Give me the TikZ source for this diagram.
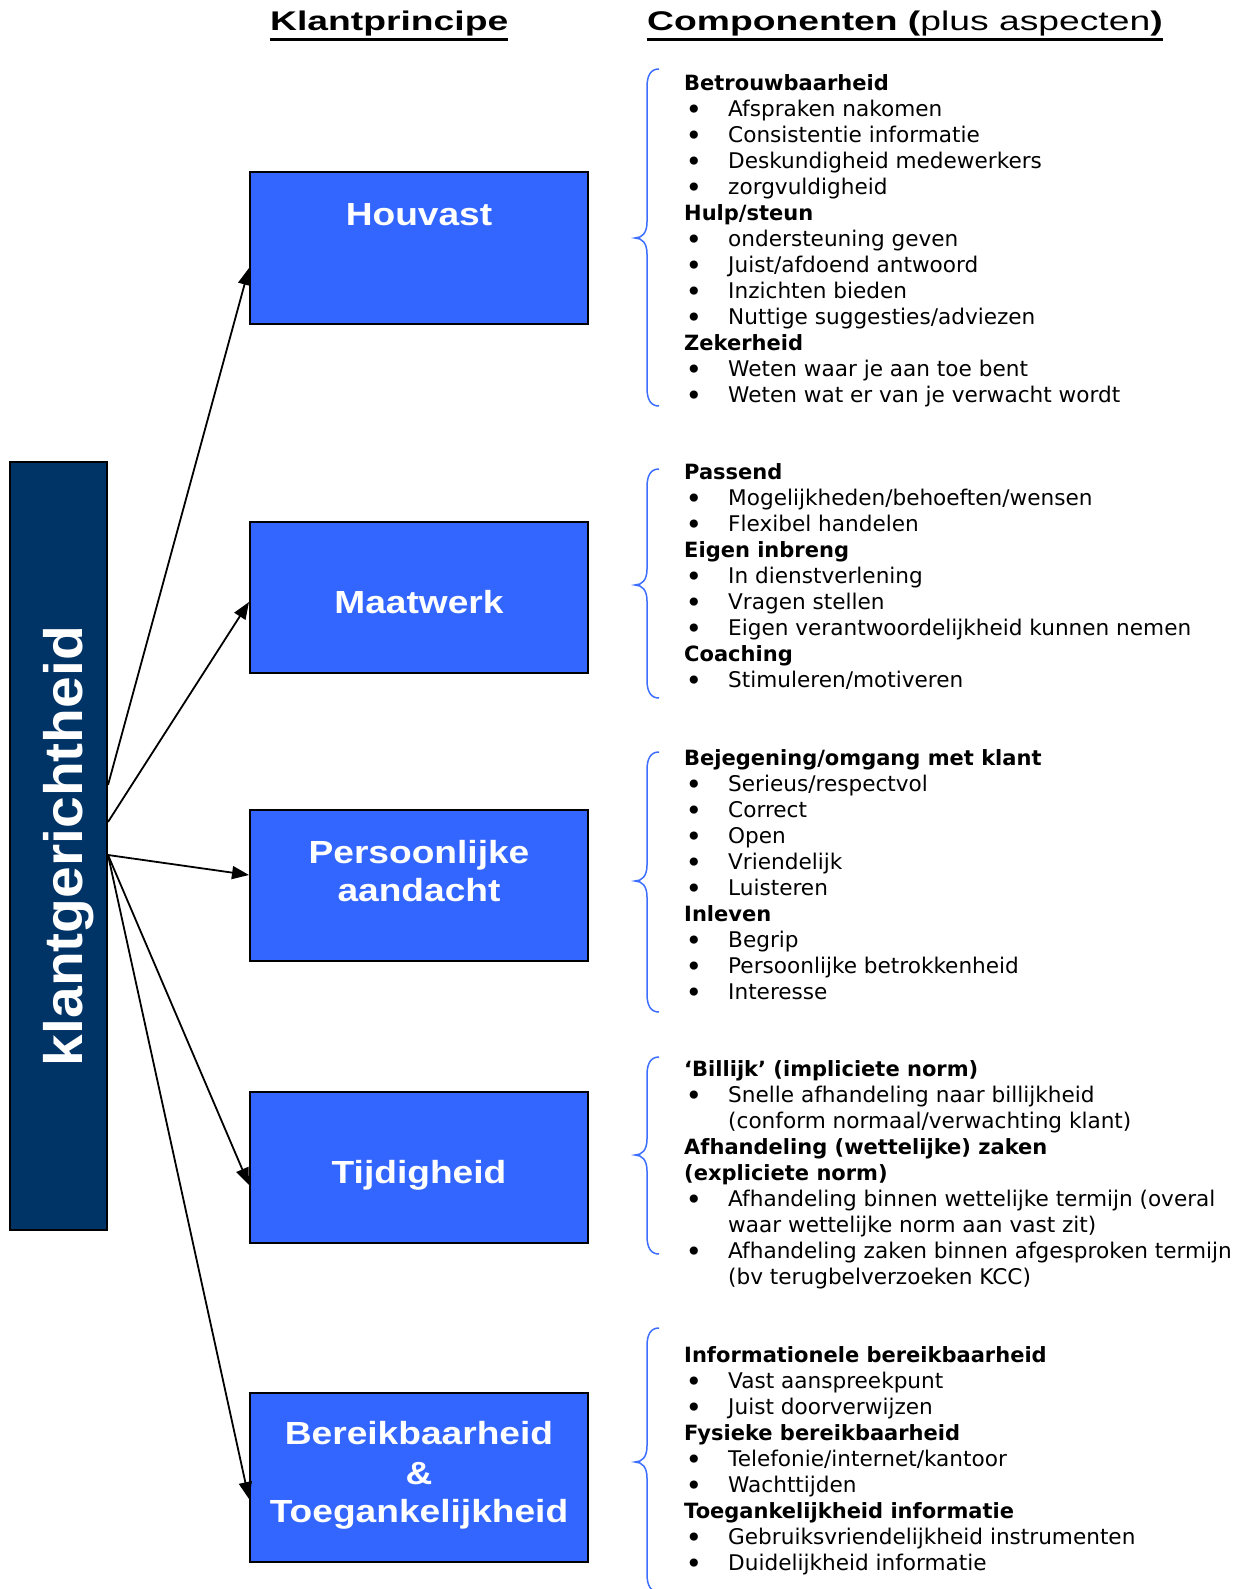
\documentclass[tikz,border=0pt]{standalone}
\usepackage{graphicx}
\usepackage{fontspec}
\setmainfont{DejaVu Sans}
\newfontfamily\arialf{Liberation Sans}
\usetikzlibrary{arrows.meta}
\definecolor{navy}{RGB}{0,51,102}
\definecolor{boxblue}{RGB}{51,102,255}
\definecolor{bracecol}{RGB}{60,110,255}
\newcommand{\itm}[1]{\makebox[44pt][l]{\hspace{1.5pt}\raisebox{-2.8pt}[0pt][0pt]{\scalebox{1.3}{\textbullet}}}#1}
\newcommand{\cnt}[1]{\hspace*{44pt}#1}
\newcommand{\hd}[1]{{\fontsize{21}{26}\selectfont\bfseries #1}}
\newcommand{\sx}[1]{\scalebox{1.16}[1]{#1}}
\newcommand{\bracedraw}[3]{\draw[brace] (659,#1) .. controls (651,#1) and (647,#1+6) .. (647,#1+18) -- (647,#2-16) .. controls (647,#2-5) and (642,#2) .. (635,#2) .. controls (642,#2) and (647,#2+5) .. (647,#2+16) -- (647,#3-18) .. controls (647,#3-6) and (651,#3) .. (659,#3);}
\begin{document}
\begin{tikzpicture}[x=1pt,y=-1pt,
  principle/.style={draw=black, line width=2pt, fill=boxblue, minimum width=338pt, inner sep=0pt},
  boxtext/.style={anchor=base, inner sep=0pt, text=white, font=\arialf\bfseries\fontsize{32}{38}\selectfont},
  comp/.style={anchor=north west, inner sep=0pt, align=left, font=\fontsize{21.6}{26}\selectfont},
  conn/.style={line width=1.8pt, -{Triangle[length=17pt,width=13pt]}},
  brace/.style={draw=bracecol, line width=1.5pt},
  titletext/.style={anchor=base west, inner sep=0pt, font=\arialf\fontsize{27}{32}\selectfont},
  uline/.style={line width=3pt}]
\useasboundingbox (0,0) rectangle (1235,1589);

% titles
\node[titletext] (T1) at (270,31) {\scalebox{1.38}[1]{\bfseries Klantprincipe}};
\node[titletext] (T2) at (647,31) {\scalebox{1.38}[1]{\textbf{Componenten (}plus aspecten\textbf{)}}};
\draw[uline] ([yshift=-8.5pt]T1.base west) -- ([yshift=-8.5pt]T1.base east);
\draw[uline] ([yshift=-8.5pt]T2.base west) -- ([yshift=-8.5pt]T2.base east);

% left box
\node[draw=black, line width=2pt, fill=navy, minimum width=97pt, minimum height=768pt, inner sep=0pt] (K) at (58.5,846) {};
\node[rotate=90, anchor=base, inner sep=0pt, text=white, font=\arialf\bfseries\fontsize{54}{60}\selectfont] (Kt) at (82,846) {\scalebox{1.055}[1]{klantgerichtheid}};

% principle boxes
\node[principle, minimum height=152pt] (H) at (419,248) {};
\node[principle, minimum height=151pt] (M) at (419,597.5) {};
\node[principle, minimum height=151pt] (P) at (419,885.5) {};
\node[principle, minimum height=151pt] (T) at (419,1167.5) {};
\node[principle, minimum height=169pt] (B) at (419,1477.5) {};

\node[boxtext] (Ht) at (419,225.5) {\sx{Houvast}};
\node[boxtext] (Mt) at (419,613.5) {\sx{Maatwerk}};
\node[boxtext] (Pt1) at (419,863.5) {\sx{Persoonlijke}};
\node[boxtext] (Pt2) at (419,901.5) {\sx{aandacht}};
\node[boxtext] (Tt) at (419,1183.5) {\sx{Tijdigheid}};
\node[boxtext] (Bt1) at (419,1444.5) {\sx{Bereikbaarheid}};
\node[boxtext] (Bt2) at (419,1484.5) {\sx{\&}};
\node[boxtext] (Bt3) at (419,1522.5) {\sx{Toegankelijkheid}};

% connectors
\draw[conn] ([yshift=61pt]K.east) -- ([yshift=-20pt]H.west);
\draw[conn] ([yshift=24pt]K.east) -- ([yshift=-4.5pt]M.west);
\draw[conn] ([yshift=-9pt]K.east) -- ([yshift=10.5pt]P.west);
\draw[conn] ([yshift=-9pt]K.east) -- ([yshift=-17.5pt]T.west);
\draw[conn] ([yshift=-9pt]K.east) -- ([yshift=-21.5pt]B.west);

% braces
\bracedraw{69}{238}{406}
\bracedraw{469}{585}{698}
\bracedraw{752}{881}{1012}
\bracedraw{1057}{1155}{1254}
\bracedraw{1328}{1462}{1592}

% component lists
\node[comp] (C1) at (684,72.3) {\strut\hd{Betrouwbaarheid}\\
\itm{Afspraken nakomen}\\
\itm{Consistentie informatie}\\
\itm{Deskundigheid medewerkers}\\
\itm{zorgvuldigheid}\\
\hd{Hulp/steun}\\
\itm{ondersteuning geven}\\
\itm{Juist/afdoend antwoord}\\
\itm{Inzichten bieden}\\
\itm{Nuttige suggesties/adviezen}\\
\hd{Zekerheid}\\
\itm{Weten waar je aan toe bent}\\
\itm{Weten wat er van je verwacht wordt}};

\node[comp] (C2) at (684,461.3) {\strut\hd{Passend}\\
\itm{Mogelijkheden/behoeften/wensen}\\
\itm{Flexibel handelen}\\
\hd{Eigen inbreng}\\
\itm{In dienstverlening}\\
\itm{Vragen stellen}\\
\itm{Eigen verantwoordelijkheid kunnen nemen}\\
\hd{Coaching}\\
\itm{Stimuleren/motiveren}};

\node[comp] (C3) at (684,747.1) {\strut\hd{Bejegening/omgang met klant}\\
\itm{Serieus/respectvol}\\
\itm{Correct}\\
\itm{Open}\\
\itm{Vriendelijk}\\
\itm{Luisteren}\\
\hd{Inleven}\\
\itm{Begrip}\\
\itm{Persoonlijke betrokkenheid}\\
\itm{Interesse}};

\node[comp] (C4) at (684,1058.1) {\strut\hd{‘Billijk’ (impliciete norm)}\\
\itm{Snelle afhandeling naar billijkheid}\\
\cnt{(conform normaal/verwachting klant)}\\
\hd{Afhandeling (wettelijke) zaken}\\
\hd{(expliciete norm)}\\
\itm{Afhandeling binnen wettelijke termijn (overal}\\
\cnt{waar wettelijke norm aan vast zit)}\\
\itm{Afhandeling zaken binnen afgesproken termijn}\\
\cnt{(bv terugbelverzoeken KCC)}};

\node[comp] (C5) at (684,1343.8) {\strut\hd{Informationele bereikbaarheid}\\
\itm{Vast aanspreekpunt}\\
\itm{Juist doorverwijzen}\\
\hd{Fysieke bereikbaarheid}\\
\itm{Telefonie/internet/kantoor}\\
\itm{Wachttijden}\\
\hd{Toegankelijkheid informatie}\\
\itm{Gebruiksvriendelijkheid instrumenten}\\
\itm{Duidelijkheid informatie}};
\end{tikzpicture}
\end{document}
